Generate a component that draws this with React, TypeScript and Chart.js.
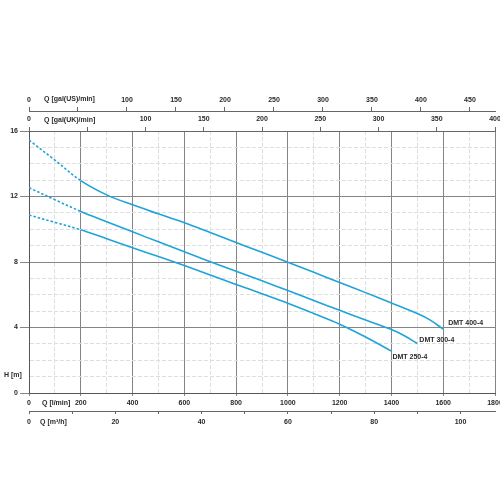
import React, { useEffect, useRef } from 'react';
import { Chart, registerables } from 'chart.js';

Chart.register(...registerables);

// pump curves, Q in l/min, H in m
const models = ['DMT 400-4', 'DMT 300-4', 'DMT 250-4'];

const q400 = [0, 100, 200, 300, 400, 500, 600, 700, 800, 900, 1000, 1100, 1200, 1300, 1400, 1500, 1550, 1600];
const h400 = [15.45, 14.22, 12.97, 12.1, 11.49, 10.94, 10.4, 9.8, 9.19, 8.59, 7.99, 7.37, 6.75, 6.13, 5.5, 4.85, 4.45, 3.9];

const q300 = [0, 100, 200, 300, 400, 500, 600, 700, 800, 900, 1000, 1100, 1200, 1300, 1400, 1450, 1500];
const h300 = [12.54, 11.8, 11.09, 10.46, 9.84, 9.23, 8.62, 8.02, 7.43, 6.85, 6.26, 5.65, 5.05, 4.46, 3.88, 3.5, 3.02];

const q250 = [0, 100, 200, 300, 400, 500, 600, 700, 800, 900, 1000, 1100, 1200, 1300, 1400];
const h250 = [10.87, 10.42, 9.97, 9.42, 8.87, 8.33, 7.78, 7.21, 6.63, 6.06, 5.48, 4.85, 4.2, 3.42, 2.56];

// labelled ticks on each scale
const lpmTicks = [0, 200, 400, 600, 800, 1000, 1200, 1400, 1600, 1800];
const headTicks = [0, 4, 8, 12, 16];
const galUSTicks = [0, 100, 150, 200, 250, 300, 350, 400, 450];
const galUKTicks = [0, 100, 150, 200, 250, 300, 350, 400];
const m3hTicks = [0, 20, 40, 60, 80, 100];

const Q_MAX = 1800;
const LPM_PER_USGAL = 3.785;
const LPM_PER_M3H = 16.667;

const FONT_FAMILY = '"Liberation Sans Narrow", "Liberation Sans", Arial, sans-serif';
const TEXT = '#2a2a2a';
const CURVE = '#1fa3da';
const MAJOR = '#858585';
const MINOR = '#dedede';

const tickFont = { family: FONT_FAMILY, size: 7, weight: 'bold' as const };

const pairs = (q: number[], h: number[]) => q.map((v, i) => ({ x: v, y: h[i] }));

const fixSize = (w: number | null, h: number | null) => (scale: any) => {
  if (w !== null) scale.width = w;
  if (h !== null) scale.height = h;
  scale.paddingLeft = 0;
  scale.paddingRight = 0;
  scale.paddingTop = 0;
  scale.paddingBottom = 0;
};

const textPlugin = {
  id: 'pumpText',
  afterDraw(chart: any) {
    const { ctx, scales } = chart;
    const x = scales.x;
    const y = scales.y;
    ctx.save();
    ctx.font = `bold 7px ${FONT_FAMILY}`;
    ctx.fillStyle = TEXT;
    ctx.textBaseline = 'middle';
    ctx.textAlign = 'left';
    ctx.fillText('Q [gal(US)/min]', x.left + 15, scales.xUS.bottom - 12);
    ctx.fillText('Q [gal(UK)/min]', x.left + 15, scales.xUK.bottom - 11);
    ctx.fillText('Q [l/min]', x.left + 13, x.top + 10);
    ctx.fillText('Q [m\u00b3/h]', x.left + 11, scales.xM3.top + 11);
    ctx.fillText('H [m]', 4, y.getPixelForValue(1.1));

    // model names next to the curve ends
    const offsets = [[5, -6], [2, -3], [1, 6]];
    chart.data.datasets.forEach((ds: any, i: number) => {
      const last = ds.data[ds.data.length - 1];
      const px = x.getPixelForValue(last.x) + offsets[i][0];
      const py = y.getPixelForValue(last.y) + offsets[i][1];
      ctx.fillText(models[i], px, py);
    });
    ctx.restore();
  },
};

const App: React.FC = () => {
  const chartRef = useRef<HTMLCanvasElement>(null);
  const chartInstance = useRef<Chart | null>(null);

  useEffect(() => {
    if (!chartRef.current) return;
    if (chartInstance.current) chartInstance.current.destroy();
    const ctx = chartRef.current.getContext('2d');
    if (!ctx) return;

    const curveSet = (label: string, q: number[], h: number[]) => ({
      label,
      data: pairs(q, h),
      borderColor: CURVE,
      borderWidth: 1.6,
      pointRadius: 0,
      fill: false,
      tension: 0.35,
      segment: {
        borderDash: (c: any) => (c.p1.parsed.x <= 200 ? [2.5, 2] : undefined),
      },
      xAxisID: 'x',
      yAxisID: 'y',
    });

    const isMajorQ = (c: any) => c.tick && lpmTicks.includes(c.tick.value);
    const isMajorH = (c: any) => c.tick && headTicks.includes(c.tick.value);

    chartInstance.current = new Chart(ctx, {
      type: 'line',
      data: {
        datasets: [
          curveSet(models[0], q400, h400),
          curveSet(models[1], q300, h300),
          curveSet(models[2], q250, h250),
        ],
      },
      plugins: [textPlugin],
      options: {
        responsive: false,
        animation: false,
        events: [],
        layout: { padding: { top: 81, left: 0, right: 5, bottom: 67 } },
        plugins: { legend: { display: false }, tooltip: { enabled: false } },
        scales: {
          x: {
            type: 'linear',
            position: 'bottom',
            weight: 0,
            min: 0,
            max: Q_MAX,
            afterFit: fixSize(null, 18),
            ticks: {
              stepSize: 100,
              autoSkip: false,
              maxRotation: 0,
              padding: 3,
              font: tickFont,
              color: TEXT,
              callback: (v: any) => (lpmTicks.includes(v) ? String(v) : ''),
            },
            grid: {
              color: (c: any) => (isMajorQ(c) ? MAJOR : MINOR),
              tickColor: (c: any) => (isMajorQ(c) ? MAJOR : 'transparent'),
              tickLength: 3,
              lineWidth: 1,
            },
            border: {
              color: '#555',
              dash: (c: any) => (c.tick && !lpmTicks.includes(c.tick.value) ? [4, 2] : []),
            },
          },
          xM3: {
            type: 'linear',
            position: 'bottom',
            weight: 1,
            min: 0,
            max: Q_MAX / LPM_PER_M3H,
            afterFit: fixSize(null, 22),
            ticks: {
              stepSize: 10,
              includeBounds: false,
              autoSkip: false,
              maxRotation: 0,
              padding: 4,
              font: tickFont,
              color: TEXT,
              callback: (v: any) => (m3hTicks.includes(v) ? String(v) : ''),
            },
            grid: { drawOnChartArea: false, color: '#666', tickLength: 3 },
            border: { color: '#666' },
          },
          xUK: {
            type: 'linear',
            position: 'top',
            weight: 0,
            min: 0,
            max: 400,
            afterFit: fixSize(null, 20),
            ticks: {
              stepSize: 50,
              includeBounds: false,
              autoSkip: false,
              maxRotation: 0,
              padding: 4,
              font: tickFont,
              color: TEXT,
              callback: (v: any) => (galUKTicks.includes(v) ? String(v) : ''),
            },
            grid: { drawOnChartArea: false, color: '#666', tickLength: 4 },
            border: { color: '#666' },
          },
          xUS: {
            type: 'linear',
            position: 'top',
            weight: 1,
            min: 0,
            max: Q_MAX / LPM_PER_USGAL,
            afterFit: fixSize(null, 30),
            ticks: {
              stepSize: 50,
              includeBounds: false,
              autoSkip: false,
              maxRotation: 0,
              padding: 3,
              font: tickFont,
              color: TEXT,
              callback: (v: any) => (galUSTicks.includes(v) ? String(v) : ''),
            },
            grid: { drawOnChartArea: false, color: '#666', tickLength: 4 },
            border: { color: '#666' },
          },
          y: {
            type: 'linear',
            position: 'left',
            min: 0,
            max: 16,
            afterFit: fixSize(29, null),
            ticks: {
              stepSize: 1,
              autoSkip: false,
              padding: 2,
              font: tickFont,
              color: TEXT,
              callback: (v: any) => (headTicks.includes(v) ? String(v) : ''),
            },
            grid: {
              color: (c: any) => (isMajorH(c) ? MAJOR : MINOR),
              tickColor: (c: any) => (isMajorH(c) ? MAJOR : 'transparent'),
              tickLength: 9,
              lineWidth: 1,
            },
            border: {
              color: '#555',
              dash: (c: any) => (c.tick && !headTicks.includes(c.tick.value) ? [4, 2] : []),
            },
          },
        },
      },
    } as any);

    return () => {
      if (chartInstance.current) {
        chartInstance.current.destroy();
        chartInstance.current = null;
      }
    };
  }, []);

  return (
    <div style={{ position: 'fixed', left: 0, top: 0, width: 500, height: 500, background: '#fff' }}>
      <canvas ref={chartRef} width={500} height={500} style={{ width: 500, height: 500 }}></canvas>
    </div>
  );
};

export default App;
